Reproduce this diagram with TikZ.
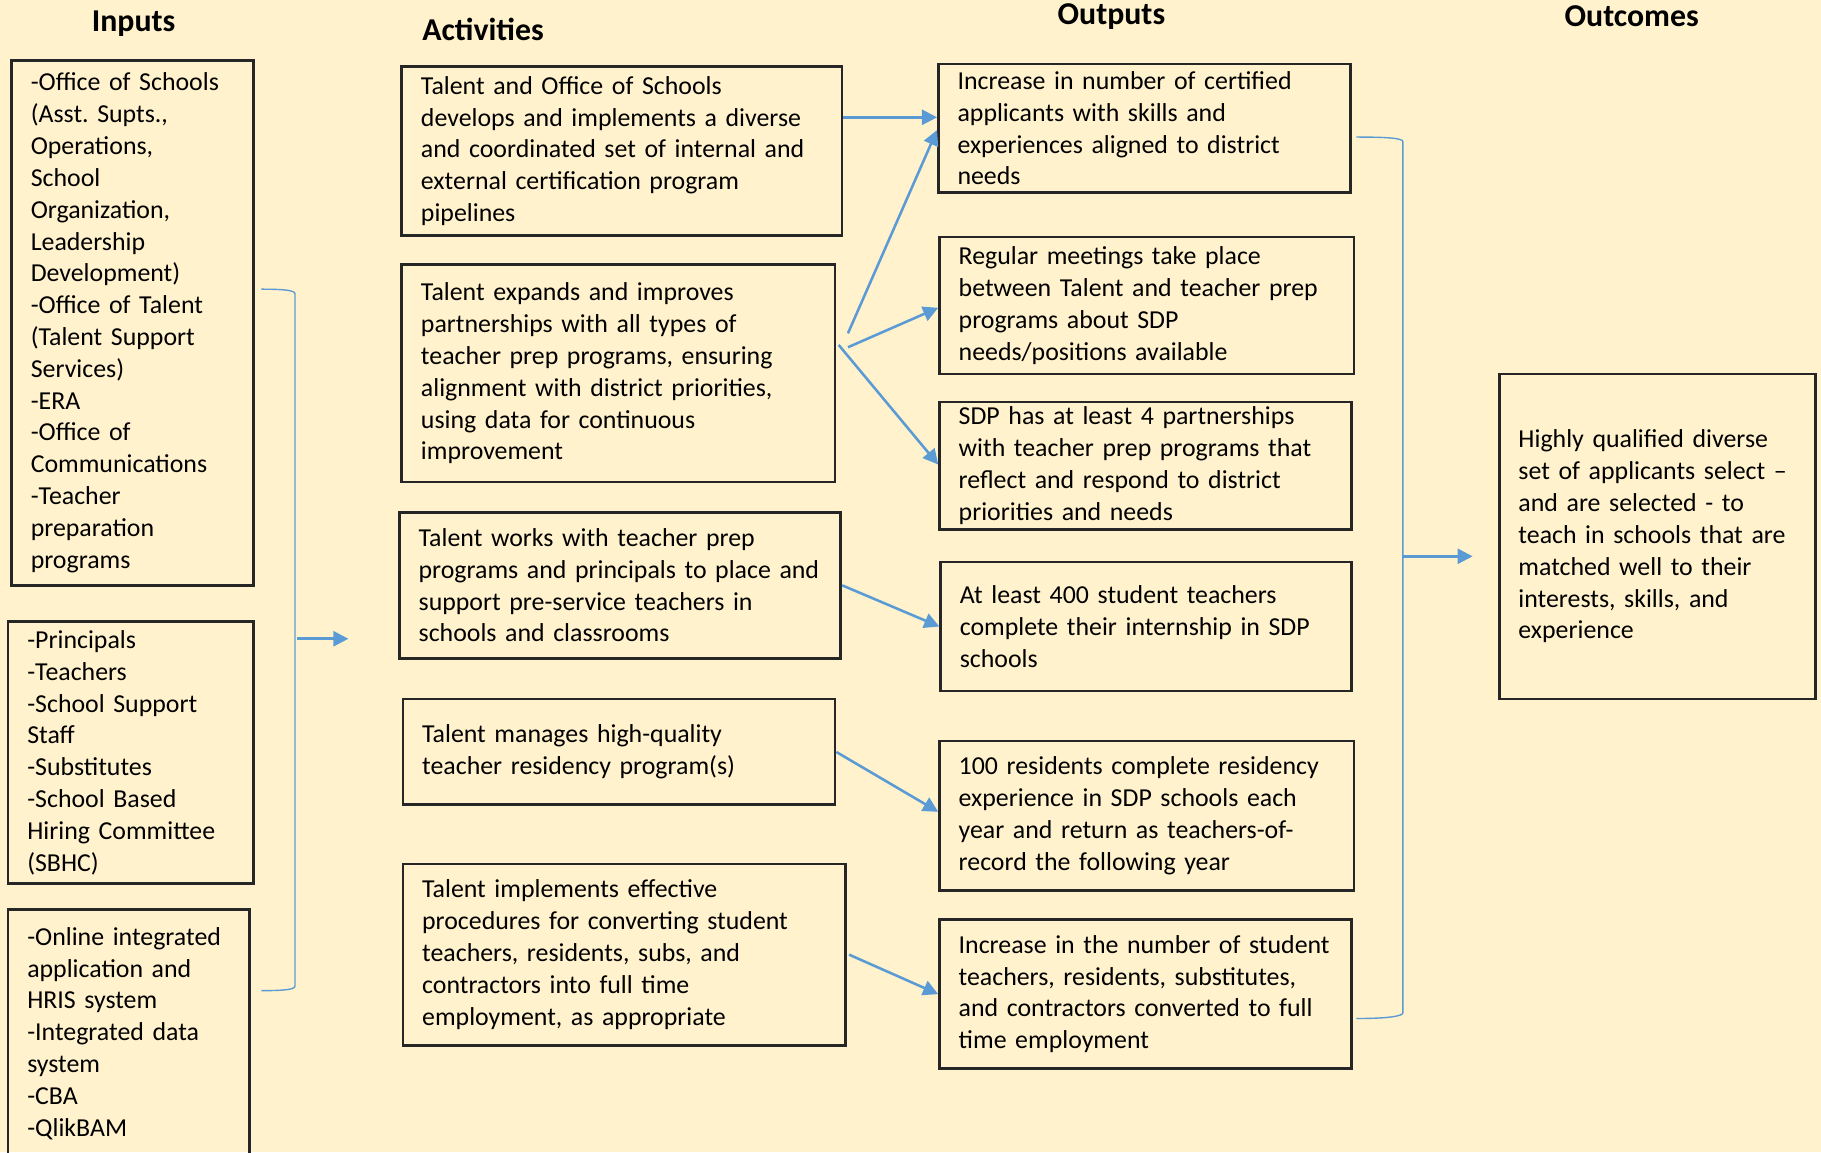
\documentclass[tikz,border=0pt]{standalone}
\usepackage{fontspec}
\setmainfont{Carlito}
\usetikzlibrary{arrows.meta}
\definecolor{paper}{HTML}{FFF2CC}
\definecolor{flow}{HTML}{5B9BD5}
\definecolor{edge}{HTML}{262626}
\frenchspacing
\tikzset{
  head/.style     = {font=\fontsize{13.7}{16}\selectfont\bfseries},
  blk/.style 2 args = {draw=edge,line width=1.15pt,minimum width=#1,minimum height=#2,
                       text width={#1-16.5pt},inner xsep=8.25pt,inner ysep=0pt,align=left,
                       font=\fontsize{11.13}{13.7}\selectfont,
                       execute at begin node={\hyphenpenalty=10000\relax}},
  flowarr/.style  = {-{Triangle[length=6.5pt,width=6.5pt]},flow,line width=1.1pt},
  bracket/.style  = {flow,line width=0.6pt}
}

\begin{document}
\begin{tikzpicture}[x=0.5pt,y=-0.5pt]
  \useasboundingbox (0,0) rectangle (1568,992);
  \clip (0,0) rectangle (1568,992);
  \fill[paper] (0,0) rectangle (1568,992);

  % column heads
  \node[head] (hin)   at (115,20)  {Inputs};
  \node[head] (hact)  at (416,25)  {Activities};
  \node[head] (hout)  at (957,14)  {Outputs};
  \node[head] (hgoal) at (1405,14) {Outcomes};

  % inputs
  \node[blk={104pt}{226pt}] (in1) at (114,278)
    {-Office of Schools\\(Asst. Supts.,\\Operations,\\School\\Organization,\\Leadership\\Development)\\-Office of Talent\\(Talent Support\\Services)\\-ERA\\-Office of\\Communications\\-Teacher\\preparation\\programs};
  \node[blk={105.5pt}{113pt}] (in2) at (112.5,648)
    {-Principals\\-Teachers\\-School Support\\Staff\\-Substitutes\\-School Based\\Hiring Committee\\(SBHC)};
  \node[blk={104pt}{119pt},anchor=north] (in3) at (111,782)
    {-Online integrated\\application and\\HRIS system\\-Integrated data\\system\\-CBA\\-QlikBAM\\ \mbox{}};

  % activities
  \node[blk={189.5pt}{73pt}] (act1) at (535.5,130)
    {Talent and Office of Schools\\develops and implements a diverse\\and coordinated set of internal and\\external certification program\\pipelines};
  \node[blk={186.5pt}{93.5pt}] (act2) at (532.5,321.5)
    {Talent expands and improves\\partnerships with all types of\\teacher prep programs, ensuring\\alignment with district priorities,\\using data for continuous\\improvement};
  \node[blk={190pt}{63pt}] (act3) at (534,504)
    {Talent works with teacher prep\\programs and principals to place and\\support pre-service teachers in\\schools and classrooms};
  \node[blk={186pt}{45.5pt}] (act4) at (533,647.5)
    {Talent manages high-quality\\teacher residency program(s)};
  \node[blk={190.5pt}{78pt}] (act5) at (537.5,822)
    {Talent implements effective\\procedures for converting student\\teachers, residents, subs, and\\contractors into full time\\employment, as appropriate};

  % outputs
  \node[blk={177.5pt}{55.5pt}] (out1) at (985.5,110.5)
    {Increase in number of certified\\applicants with skills and\\experiences aligned to district\\needs};
  \node[blk={178.5pt}{59pt}] (out2) at (987.5,263)
    {Regular meetings take place\\between Talent and teacher prep\\programs about SDP\\needs/positions available};
  \node[blk={177.5pt}{55pt}] (out3) at (986.5,401)
    {SDP has at least 4 partnerships\\with teacher prep programs that\\reflect and respond to district\\priorities and needs};
  \node[blk={177pt}{55.5pt}] (out4) at (987,539.5)
    {At least 400 student teachers\\complete their internship in SDP\\schools};
  \node[blk={178.5pt}{64.5pt}] (out5) at (987.5,702.5)
    {100 residents complete residency\\experience in SDP schools each\\year and return as teachers-of-\\record the following year};
  \node[blk={177.5pt}{64pt}] (out6) at (986.5,856)
    {Increase in the number of student\\teachers, residents, substitutes,\\and contractors converted to full\\time employment};

  % outcome
  \node[blk={136pt}{140pt}] (goal) at (1427,462)
    {Highly qualified diverse\\set of applicants select --\\and are selected - to\\teach in schools that are\\matched well to their\\interests, skills, and\\experience};

  % activity -> output links
  \draw[flowarr] ([yshift=14.5pt]act1.east) -- ([yshift=4.75pt]out1.west);
  \draw[flowarr] ([xshift=5pt,yshift=17.25pt]act2.east) -- ([yshift=-0.75pt]out1.west);
  \draw[flowarr] ([xshift=5pt,yshift=11.25pt]act2.east) -- ([yshift=-1pt]out2.west);
  \draw[flowarr] ([xshift=1pt,yshift=12.25pt]act2.east) -- ([yshift=0.5pt]out3.west);
  \draw[flowarr] (act3.east) -- (out4.west);
  \draw[flowarr] (act4.east) -- ([yshift=1.75pt]out5.west);
  \draw[flowarr] ([xshift=1pt]act5.east) -- (out6.west);

  % brackets
  \coordinate (lbtop) at (225,249);
  \coordinate (lbbot) at (225,853);
  \coordinate (lbmid) at (256,550);
  \coordinate (lbtip) at (300,550);
  \draw[bracket] (lbtop) .. controls (245,249) and (254,250) .. (254,253) -- (254,849)
    .. controls (254,852) and (245,853) .. (lbbot);
  \draw[flowarr] (lbmid) -- (lbtip);

  \coordinate (rbtop) at (1168,118);
  \coordinate (rbbot) at (1168,877);
  \coordinate (rbmid) at (1208,479);
  \coordinate (rbtip) at (1268,479);
  \draw[bracket] (rbtop) .. controls (1195,118) and (1208,119) .. (1208,122) -- (1208,872)
    .. controls (1208,875) and (1195,877) .. (rbbot);
  \draw[flowarr] (rbmid) -- (rbtip);
\end{tikzpicture}
\end{document}
